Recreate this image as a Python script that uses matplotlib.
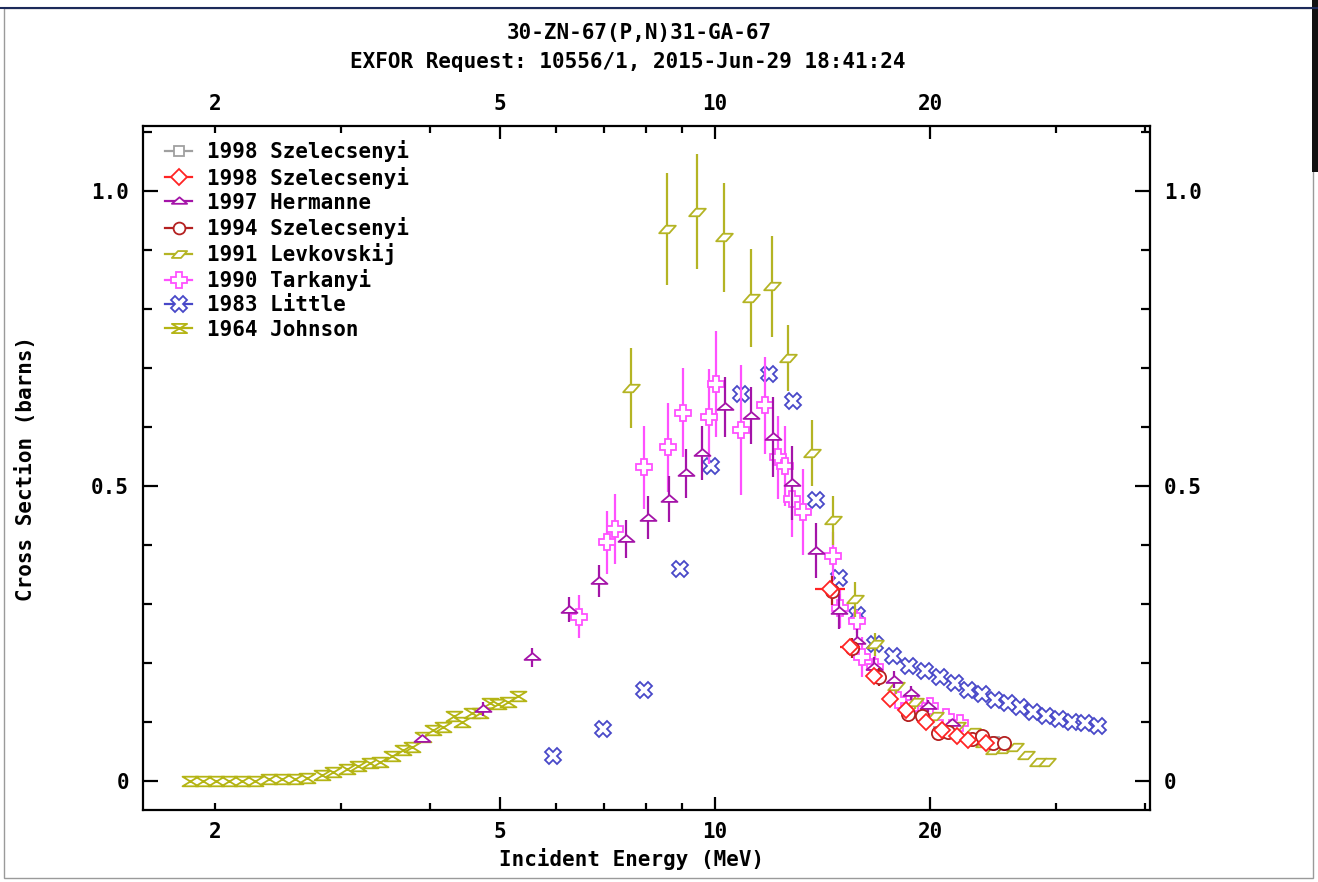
import matplotlib
matplotlib.use('Agg')
import matplotlib.pyplot as plt
from matplotlib.path import Path
from matplotlib.lines import Line2D
from matplotlib.patches import Rectangle
from matplotlib.ticker import FixedLocator, FuncFormatter

# ---------------- data ----------------
johnson_e = [1.845, 1.924, 2.006, 2.092, 2.182, 2.275, 2.380, 2.481, 2.587, 2.689,
             2.822, 2.925, 3.059, 3.170, 3.295, 3.403, 3.537, 3.665, 3.773, 3.909,
             4.037, 4.169, 4.319, 4.432, 4.576, 4.696, 4.850, 4.976, 5.139, 5.308]
johnson_y = [0.000, 0.000, 0.000, 0.000, 0.000, 0.000, 0.002, 0.003, 0.003, 0.005,
             0.010, 0.014, 0.020, 0.024, 0.029, 0.031, 0.042, 0.051, 0.056, 0.073,
             0.085, 0.090, 0.109, 0.100, 0.115, 0.114, 0.132, 0.129, 0.134, 0.144]

little_e = [5.939, 6.978, 7.962, 8.941, 9.880, 10.883, 11.909, 12.866, 13.855, 14.919,
            15.809, 16.754, 17.751, 18.689, 19.681, 20.654, 21.677, 22.604, 23.646, 24.658,
            25.715, 26.724, 27.866, 29.058, 30.304, 31.600, 32.954, 34.362]
little_y = [0.041, 0.087, 0.154, 0.358, 0.533, 0.656, 0.690, 0.643, 0.475, 0.344,
            0.280, 0.232, 0.212, 0.195, 0.185, 0.175, 0.165, 0.154, 0.146, 0.137,
            0.131, 0.124, 0.117, 0.110, 0.105, 0.100, 0.097, 0.092]

tark_e = [6.458, 7.068, 7.253, 7.962, 8.602, 9.028, 9.817, 10.041, 10.883, 11.756,
          12.259, 12.539, 12.824, 13.287, 14.633, 14.967, 15.809, 16.066, 16.754, 18.039,
          19.053, 20.000, 21.058, 22.030]
tark_y = [0.278, 0.404, 0.427, 0.531, 0.565, 0.624, 0.617, 0.672, 0.594, 0.636,
          0.548, 0.534, 0.477, 0.455, 0.380, 0.292, 0.270, 0.210, 0.193, 0.137,
          0.131, 0.126, 0.107, 0.097]
tark_dy = [0.037, 0.053, 0.059, 0.070, 0.075, 0.076, 0.081, 0.090, 0.110, 0.083,
           0.071, 0.068, 0.064, 0.073, 0.042, 0.034, 0.020, 0.034, 0.020, 0.017,
           0.014, 0.014, 0.012, 0.010]

levk_e = [7.637, 8.574, 9.444, 10.303, 11.239, 12.024, 12.660, 13.678, 14.633, 15.708,
          16.754, 17.924, 19.053, 20.324, 21.817, 22.897, 23.800, 24.578, 25.465, 26.298,
          27.246, 28.320, 29.151]
levk_y = [0.666, 0.936, 0.965, 0.921, 0.819, 0.838, 0.717, 0.555, 0.441, 0.307,
          0.231, 0.161, 0.134, 0.110, 0.092, 0.083, 0.064, 0.051, 0.053, 0.056,
          0.044, 0.032, 0.031]
levk_dy = [0.068, 0.095, 0.097, 0.093, 0.083, 0.085, 0.056, 0.056, 0.042, 0.029,
           0.020, 0.015, 0.012, 0.0, 0.0, 0.0, 0.0, 0.0, 0.0, 0.0,
           0.0, 0.0, 0.0]

herm_e = [3.896, 4.741, 5.553, 6.253, 6.889, 7.515, 8.066, 8.629, 9.115, 9.597,
          10.336, 11.239, 12.063, 12.824, 13.855, 14.919, 15.809, 16.700, 17.809, 18.810,
          19.871, 21.468]
herm_y = [0.070, 0.122, 0.209, 0.290, 0.338, 0.410, 0.446, 0.477, 0.521, 0.556,
          0.634, 0.619, 0.583, 0.505, 0.390, 0.287, 0.237, 0.193, 0.171, 0.149,
          0.127, 0.097]
herm_dy = [0.005, 0.012, 0.016, 0.022, 0.027, 0.032, 0.037, 0.039, 0.042, 0.046,
           0.051, 0.049, 0.068, 0.063, 0.047, 0.030, 0.020, 0.017, 0.014, 0.012,
           0.010, 0.008]

sz94_e = [14.586, 15.557, 16.971, 18.629, 19.491, 20.521, 21.193, 22.897, 23.646, 24.499, 25.383]
sz94_y = [0.322, 0.224, 0.176, 0.112, 0.110, 0.081, 0.083, 0.070, 0.075, 0.064, 0.064]
sz94_dy = [0.025, 0.017, 0.015, 0.012, 0.012, 0.010, 0.010, 0.008, 0.008, 0.008, 0.008]

sz98r_e = [14.492, 15.457, 16.700, 17.581, 18.509, 19.744, 20.787, 21.817, 22.604, 23.952]
sz98r_y = [0.324, 0.226, 0.178, 0.139, 0.119, 0.100, 0.085, 0.076, 0.068, 0.063]
sz98r_dx = [0.70, 0.50, 0.45, 0.40, 0.40, 0.40, 0.40, 0.40, 0.40, 0.40]
sz98r_dy = [0.012, 0.010, 0.010, 0.009, 0.008, 0.008, 0.007, 0.007, 0.006, 0.006]

sz98g_e = [18.70, 20.60, 22.80, 24.60]
sz98g_y = [0.114, 0.083, 0.070, 0.066]

labels = ['1998 Szelecsenyi', '1998 Szelecsenyi', '1997 Hermanne', '1994 Szelecsenyi',
          '1991 Levkovskij', '1990 Tarkanyi', '1983 Little', '1964 Johnson']
title1 = '30-ZN-67(P,N)31-GA-67'
title2 = 'EXFOR Request: 10556/1, 2015-Jun-29 18:41:24'

# ---------------- style ----------------
FONT = 'DejaVu Sans Mono'
plt.rcParams['font.family'] = FONT
plt.rcParams['font.weight'] = 'bold'

C_GRAY = '#A0A0A0'
C_RED = '#FF2424'
C_HERM = '#A414A8'
C_SZ94 = '#B42020'
C_LEVK = '#B4B424'
C_TARK = '#FF50FF'
C_LITT = '#4848C8'
C_JOHN = '#B4B414'

M = Path.MOVETO; L = Path.LINETO; CL = Path.CLOSEPOLY
tri = Path([(-1, -0.3), (1, -0.3), (0, 0.55), (-1, -0.3)], [M, L, L, CL])
para = Path([(-1, -0.45), (0.2, -0.45), (1, 0.45), (-0.2, 0.45), (-1, -0.45)], [M, L, L, L, CL])
hglass = Path([(-1, 0.6), (1, 0.6), (-1, -0.6), (1, -0.6), (-1, 0.6)], [M, L, L, L, CL])

fig = plt.figure(figsize=(13.18, 8.82), dpi=100)
ax = fig.add_axes([143 / 1318, 1 - 810 / 882, (1150 - 143) / 1318, (810 - 126) / 882])

LW = 1.6
MEW = 1.3

def series(x, y, color, marker, ms, dy=None, dx=None, z=3):
    if dy is not None or dx is not None:
        ax.errorbar(x, y, yerr=dy, xerr=dx, fmt='none', ecolor=color,
                    elinewidth=LW, capsize=0, zorder=z)
    ax.plot(x, y, linestyle='none', marker=marker, ms=ms, mfc='white',
            mec=color, mew=MEW, zorder=z + 0.5)

series(sz98g_e, sz98g_y, C_GRAY, 's', 7, z=1)
series(johnson_e, johnson_y, C_JOHN, hglass, 11.5, z=2)
series(little_e, little_y, C_LITT, 'X', 11.5, z=3)
series(tark_e, tark_y, C_TARK, 'P', 11.5, dy=tark_dy, z=4)
series(levk_e, levk_y, C_LEVK, para, 12, dy=levk_dy, z=5)
series(herm_e, herm_y, C_HERM, tri, 11.5, dy=herm_dy, z=6)
series(sz94_e, sz94_y, C_SZ94, 'o', 9.5, dy=sz94_dy, z=7)
series(sz98r_e, sz98r_y, C_RED, 'D', 8, dy=sz98r_dy, dx=sz98r_dx, z=8)

ax.set_xscale('log')
ax.set_xlim(1.586, 40.6)
ax.set_ylim(-0.05, 1.11)

# ticks
ax.xaxis.set_major_locator(FixedLocator([5, 10, 20]))
ax.xaxis.set_major_formatter(FuncFormatter(lambda v, p: '%g' % v))
ax.xaxis.set_minor_locator(FixedLocator([2, 3, 4, 6, 7, 8, 9, 30, 40]))
ax.xaxis.set_minor_formatter(FuncFormatter(lambda v, p: '2' if abs(v - 2) < 1e-6 else ''))
ax.yaxis.set_major_locator(FixedLocator([0, 0.5, 1.0]))
ax.yaxis.set_major_formatter(FuncFormatter(lambda v, p: '0' if v == 0 else '%.1f' % v))
ax.yaxis.set_minor_locator(FixedLocator([0.1, 0.2, 0.3, 0.4, 0.6, 0.7, 0.8, 0.9, 1.1]))

ax.tick_params(axis='both', which='both', direction='in', width=1.6,
               top=True, right=True, labeltop=True, labelright=True,
               labelsize=15, colors='black')
ax.tick_params(axis='x', which='major', length=9.5, pad=9)
ax.tick_params(axis='x', which='minor', length=5, pad=9)
ax.tick_params(axis='y', which='major', length=10.5, pad=10)
ax.tick_params(axis='y', which='minor', length=6.5, pad=10)
for lab in ax.get_xticklabels(which='both') + ax.get_yticklabels():
    lab.set_fontweight('bold')
for sp in ax.spines.values():
    sp.set_linewidth(1.6)

ax.set_xlabel('Incident Energy (MeV)', fontsize=15, fontweight='bold', labelpad=4)
ax.xaxis.label.set_x((632 - 143) / 1007)
ax.set_ylabel('Cross Section (barns)', fontsize=15, fontweight='bold', labelpad=40)

fig.text(639 / 1318, 1 - 33 / 882, title1, ha='center', va='center', fontsize=15, fontweight='bold')
fig.text(628 / 1318, 1 - 62 / 882, title2, ha='center', va='center', fontsize=15, fontweight='bold')

# legend
handles = [
    Line2D([0], [0], color=C_GRAY, lw=LW, marker='s', ms=7, mfc='white', mec=C_GRAY, mew=MEW),
    Line2D([0], [0], color=C_RED, lw=LW, marker='D', ms=8, mfc='white', mec=C_RED, mew=MEW),
    Line2D([0], [0], color=C_HERM, lw=LW, marker=tri, ms=11, mfc='white', mec=C_HERM, mew=MEW),
    Line2D([0], [0], color=C_SZ94, lw=LW, marker='o', ms=8.5, mfc='white', mec=C_SZ94, mew=MEW),
    Line2D([0], [0], color=C_LEVK, lw=LW, marker=para, ms=11, mfc='white', mec=C_LEVK, mew=MEW),
    Line2D([0], [0], color=C_TARK, lw=LW, marker='P', ms=11, mfc='white', mec=C_TARK, mew=MEW),
    Line2D([0], [0], color=C_LITT, lw=LW, marker='X', ms=11, mfc='white', mec=C_LITT, mew=MEW),
    Line2D([0], [0], color=C_JOHN, lw=LW, marker=hglass, ms=11, mfc='white', mec=C_JOHN, mew=MEW),
]
leg = ax.legend(handles, labels, loc='upper left', bbox_to_anchor=(0.022, 0.979),
                frameon=False, handlelength=1.3, handletextpad=0.7,
                labelspacing=0.2, borderpad=0, borderaxespad=0,
                prop={'family': FONT, 'weight': 'bold', 'size': 15})

# outer frame like the screenshot
fig.patches.append(Rectangle((0.003, 0.004), 0.993, 0.987, transform=fig.transFigure,
                             fill=False, edgecolor='#9a9a9a', lw=1.0))
fig.add_artist(Line2D([0.0, 1.0], [1 - 8 / 882, 1 - 8 / 882], transform=fig.transFigure,
                      color='#1c2a5a', lw=1.5))
fig.patches.append(Rectangle((1312 / 1318, 1 - 172 / 882), 6 / 1318, 172 / 882,
                             transform=fig.transFigure, facecolor='#111111', edgecolor='none'))

fig.savefig('out.png', dpi=100)
